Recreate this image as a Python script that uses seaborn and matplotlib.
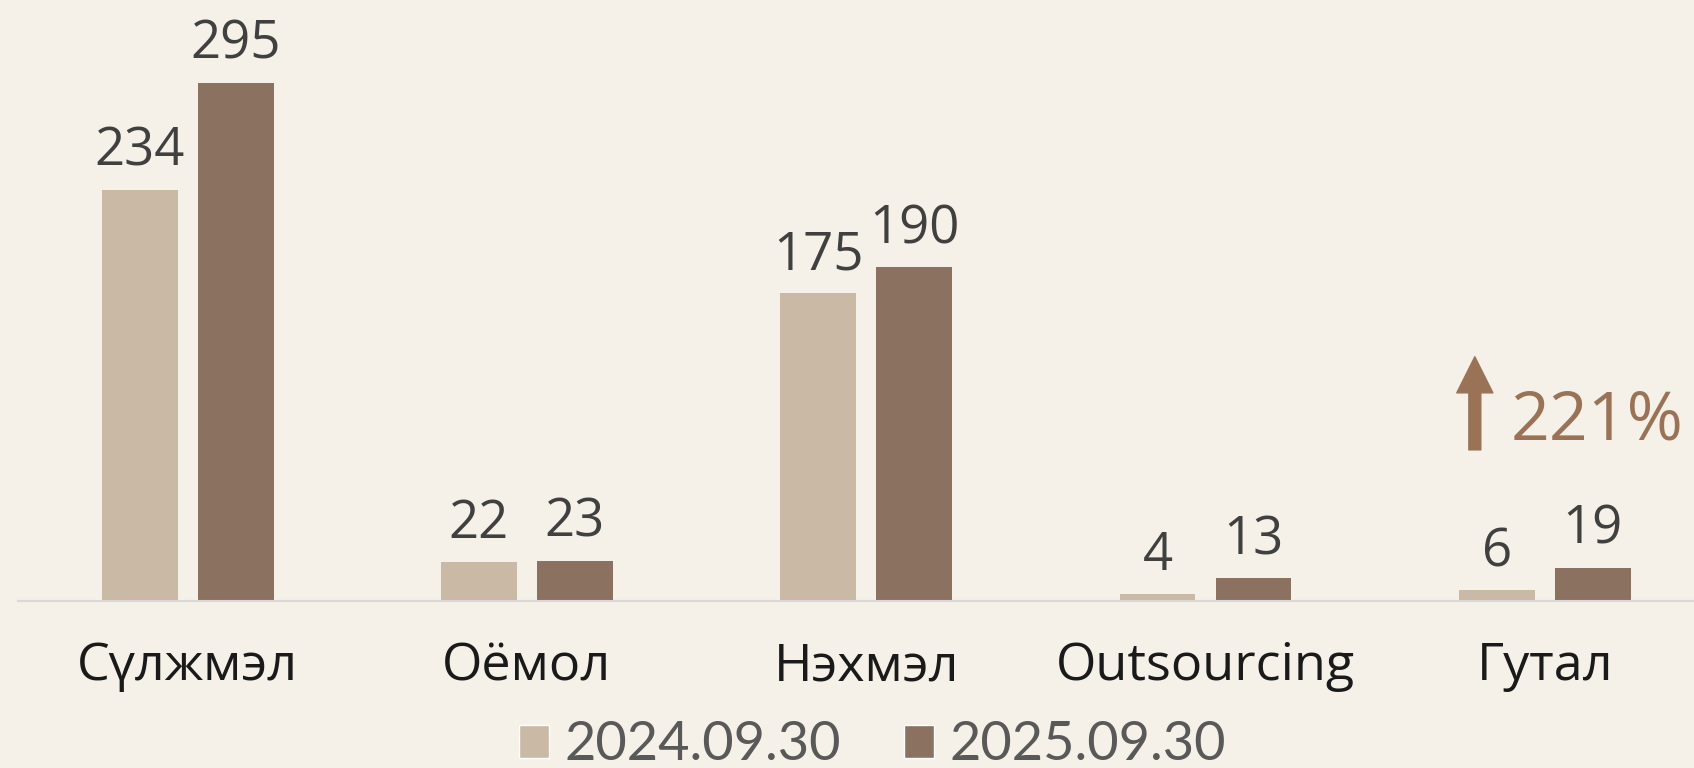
import pandas as pd
import seaborn as sns
import matplotlib.pyplot as plt
from matplotlib.patches import Patch

categories = ['Сүлжмэл', 'Оёмол', 'Нэхмэл', 'Outsourcing', 'Гутал']
periods = ['2024.09.30', '2025.09.30']
values_2024 = [234, 22, 175, 4, 6]
values_2025 = [295, 23, 190, 13, 19]
growth_label = '221%'

bg = '#F5F1E8'
light = '#C9B9A5'
dark = '#8B7260'
accent = '#9A7357'

sns.set_style("white")
plt.rcParams['font.family'] = ['Open Sans', 'DejaVu Sans']

df = pd.DataFrame({
    'Category': categories * 2,
    'Period': [periods[0]] * len(categories) + [periods[1]] * len(categories),
    'Value': values_2024 + values_2025,
})

fig = plt.figure(figsize=(16.94, 7.68), dpi=100)
fig.patch.set_facecolor(bg)
ax = fig.add_axes([18 / 1694, 167 / 768, 1 - 18 / 1694, 601 / 768])
ax.set_facecolor(bg)

sns.barplot(data=df, x='Category', y='Value', hue='Period', palette=[light, dark],
            width=0.566, gap=0.21, legend=False, ax=ax, errorbar=None,
            saturation=1, linewidth=0)

for c in ax.containers:
    ax.bar_label(c, padding=8, fontsize=38, color='#404040')

ax.set_xlim(-0.5, 4.44)
ax.set_ylim(0, 342)
ax.set_xlabel('')
ax.set_ylabel('')
ax.set_yticks([])
ax.tick_params(axis='x', length=0, pad=29, labelsize=37.5, labelcolor='#1a1a1a')
for s in ['top', 'left', 'right']:
    ax.spines[s].set_visible(False)
ax.spines['bottom'].set_color('#D9D9D9')
ax.spines['bottom'].set_linewidth(1.5)

# growth arrow for the last category
ax.annotate('', xy=(3.794, 139), xytext=(3.794, 86),
            arrowprops=dict(arrowstyle='simple,head_length=26,head_width=26,tail_width=8.6',
                            mutation_scale=1, color=accent, shrinkA=0, shrinkB=0))
ax.text(3.90, 91.7, growth_label, fontsize=49, color=accent, ha='left', va='baseline')

handles = [Patch(facecolor=light), Patch(facecolor=dark)]
fig.legend(handles, periods, loc='center', bbox_to_anchor=(0.515, 0.03), ncol=2, frameon=False,
           prop={'family': 'Lato', 'size': 39}, labelcolor='#595959',
           handlelength=0.55, handleheight=0.55, handletextpad=0.28, columnspacing=1.17,
           borderpad=0, borderaxespad=0)

fig.savefig('out.png', dpi=100, facecolor=bg)
